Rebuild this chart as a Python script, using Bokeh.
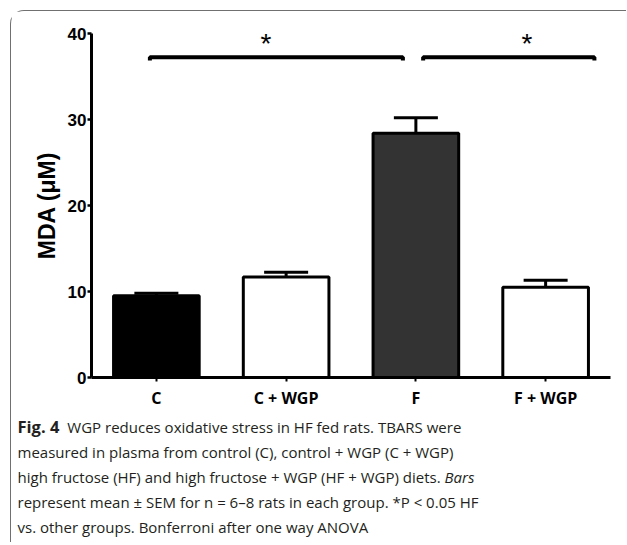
from bokeh.plotting import figure
from bokeh.layouts import column
from bokeh.models import (FactorRange, Range1d, ColumnDataSource, Whisker, TeeHead,
                          Label, FixedTicker, Div)
from bokeh.embed import file_html
from bokeh.resources import INLINE
import html as _html

# ---------------- data ----------------
groups = ["C", "C + WGP", "F", "F + WGP"]
mda_mean = [9.5, 11.7, 28.4, 10.5]
mda_sem = [0.3, 0.55, 1.8, 0.8]
bar_colors = ["#000000", "#ffffff", "#333333", "#ffffff"]
y_ticks = [0, 10, 20, 30, 40]
sig_pairs = [("C", "F"), ("F", "F + WGP")]
sig_text = ["*", "*"]
sig_level = 37.25

caption_lines = [
    [("Fig. 4", "bold"), ("WGP reduces oxidative stress in HF fed rats. TBARS were", "normal")],
    [("measured in plasma from control (C), control + WGP (C + WGP)", "normal")],
    [("high fructose (HF) and high fructose + WGP (HF + WGP) diets. ", "normal"), ("Bars", "italic")],
    [("represent mean \u00b1 SEM for n = 6\u20138 rats in each group. *P < 0.05 HF", "normal")],
    [("vs. other groups. Bonferroni after one way ANOVA", "normal")],
]

# ---------------- layout constants (page pixels) ----------------
OX, OY = 11.5, 11.5                    # page position of the figures' origin
FL, FR, FT, FB = 92, 610, 33, 378      # chart frame edges on page
CH_BOTTOM = 412                        # page y where chart figure ends
W = 615
YMAX = 40

p = figure(width=W, height=int(CH_BOTTOM - OY),
           x_range=FactorRange(factors=groups, range_padding=0),
           y_range=Range1d(0, YMAX),
           output_backend="svg", toolbar_location=None,
           min_border_left=int(round(FL - OX)), min_border_right=int(round(OX + W - FR)),
           min_border_top=int(round(FT - OY)), min_border_bottom=int(CH_BOTTOM - FB))
p.xgrid.visible = False
p.ygrid.visible = False
p.outline_line_color = None
p.background_fill_color = "white"
p.border_fill_color = "white"

src = ColumnDataSource(dict(
    grp=groups, top=mda_mean, color=bar_colors,
    up=[m + s for m, s in zip(mda_mean, mda_sem)]))

p.vbar(x="grp", top="top", width=0.66, source=src,
       fill_color="color", line_color="black", line_width=3)

wh = Whisker(base="grp", upper="up", lower="top", source=src,
             line_color="black", line_width=3,
             upper_head=TeeHead(size=44, line_color="black", line_width=3),
             lower_head=None)
p.add_layout(wh)

# significance brackets
bracket_offsets = [(-0.05, -0.10), (0.056, 0.376)]
star_offsets = [-0.08, 0.14]
drop = 0.4
xs, ys = [], []
for (a, b), (oa, ob), txt, so in zip(sig_pairs, bracket_offsets, sig_text, star_offsets):
    x0 = groups.index(a) + 0.5 + oa
    x1 = groups.index(b) + 0.5 + ob
    xs.append([x0, x0, x1, x1])
    ys.append([sig_level - drop, sig_level, sig_level, sig_level - drop])
    p.add_layout(Label(x=(x0 + x1) / 2 + so, y=sig_level + 1.55, text=txt,
                       text_font="Liberation Sans", text_font_size="28px",
                       text_align="center", text_baseline="alphabetic",
                       text_color="black"))
p.multi_line(xs, ys, line_color="black", line_width=4)

# axes
p.yaxis.ticker = FixedTicker(ticks=y_ticks)
p.yaxis.axis_line_width = 3
p.yaxis.major_tick_line_width = 2.5
p.yaxis.major_tick_out = 4
p.yaxis.major_tick_in = 0
p.yaxis.minor_tick_line_color = None
p.yaxis.major_label_standoff = 1
p.yaxis.major_label_text_font = "Liberation Sans"
p.yaxis.major_label_text_font_style = "bold"
p.yaxis.major_label_text_font_size = "17px"
p.yaxis.major_label_text_color = "black"
p.yaxis.axis_label = "MDA (\u03bcM)"
p.yaxis.axis_label_text_font = "Liberation Sans"
p.yaxis.axis_label_text_font_style = "bold"
p.yaxis.axis_label_text_font_size = "23px"
p.yaxis.axis_label_text_color = "black"
p.yaxis.axis_label_standoff = 5

p.xaxis.axis_line_width = 3
p.xaxis.major_tick_line_width = 2
p.xaxis.major_tick_out = 4
p.xaxis.major_tick_in = 0
p.xaxis.major_label_standoff = 5
p.xaxis.major_label_text_font = "Open Sans"
p.xaxis.major_label_text_font_style = "bold"
p.xaxis.major_label_text_font_size = "16px"
p.xaxis.major_label_text_color = "black"

# ---------------- caption ----------------
CAP_H = int(543 - CH_BOTTOM)
style_css = {"bold": "font-weight:bold;font-size:16.5px;margin-right:8px;",
             "italic": "font-style:italic;",
             "normal": ""}
rows = []
for parts in caption_lines:
    spans = "".join(f'<span style="{style_css[s]}">{_html.escape(t)}</span>' for t, s in parts)
    rows.append(spans)
cap_html = ('<div style="font-family:\'Open Sans\';font-size:15px;line-height:25px;'
            'color:#231f20;white-space:pre;padding:3px 0 0 6.5px;margin:0;">'
            + "<br>".join(rows) + "</div>")
cap = Div(text=cap_html, width=W, height=CAP_H, margin=0)

root = column(p, cap, spacing=0, margin=(10, 0, 0, 10),
              styles={"border-top": "1.5px solid #707070",
                      "border-left": "1.5px solid #707070",
                      "border-top-left-radius": "14px"})

open("out.html", "w").write(file_html(root, INLINE))
